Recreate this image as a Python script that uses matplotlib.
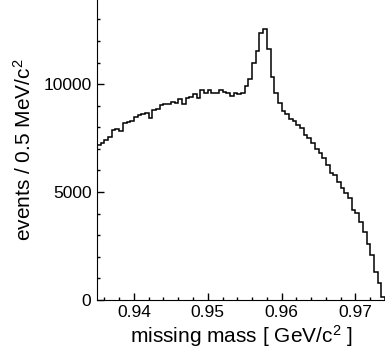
import numpy as np
import matplotlib
matplotlib.use("Agg")
import matplotlib.pyplot as plt
from matplotlib.ticker import MultipleLocator

plt.rcParams['font.family'] = ['Liberation Sans', 'DejaVu Sans']
plt.rcParams['mathtext.fontset'] = 'custom'
plt.rcParams['mathtext.rm'] = 'Liberation Sans'
plt.rcParams['mathtext.it'] = 'Liberation Sans:italic'

# histogram: missing mass, 0.5 MeV bins starting at 0.935 GeV
bin_lo = 0.935
bin_width = 0.0005
counts = [7180, 7280, 7410, 7560, 7870, 7900, 7820, 8210, 8260, 8300,
          8490, 8570, 8610, 8640, 8410, 8800, 8860, 9010, 9060, 9100,
          9170, 9140, 9320, 9100, 9380, 9410, 9520, 9350, 9710, 9570,
          9710, 9570, 9570, 9750, 9650, 9570, 9440, 9570, 9520, 9570,
          9910, 10250, 11000, 11540, 12390, 12550, 11650, 10340, 9570, 9140,
          8750, 8600, 8380, 8300, 8100, 7950, 7640, 7490, 7280, 6980,
          6790, 6560, 6250, 5860, 5790, 5480, 5170, 4940, 4710, 4170,
          4010, 3630, 3160, 2590, 2080, 1310, 770, 150]
xticks = [0.94, 0.95, 0.96, 0.97]
yticks = [0, 5000, 10000]

edges = bin_lo + bin_width * np.arange(len(counts) + 1)

fig = plt.figure(figsize=(3.85, 3.57), dpi=100)
ax = fig.add_axes([0.252, 0.16, 0.748, 0.84])

ax.stairs(counts, edges, color='black', linewidth=1.1, baseline=0)

ax.set_xlim(0.935, 0.974)
ax.set_ylim(0, 13900)
ax.set_xticks(xticks)
ax.set_xticklabels(['%.2f' % t for t in xticks])
ax.set_yticks(yticks)
ax.xaxis.set_minor_locator(MultipleLocator(0.002))
ax.yaxis.set_minor_locator(MultipleLocator(1000))
ax.tick_params(which='both', direction='in', labelsize=12.5, width=1.0)
ax.tick_params(which='major', length=5, pad=4)
ax.tick_params(which='minor', length=2.5)

ax.spines['top'].set_visible(False)
ax.spines['right'].set_visible(False)

ax.set_xlabel(r'missing mass [ GeV/c$^2$ ]', fontsize=15, labelpad=2)
ax.set_ylabel(r'events / 0.5 MeV/c$^2$', fontsize=15, labelpad=6)

fig.savefig('out.png', dpi=100)
